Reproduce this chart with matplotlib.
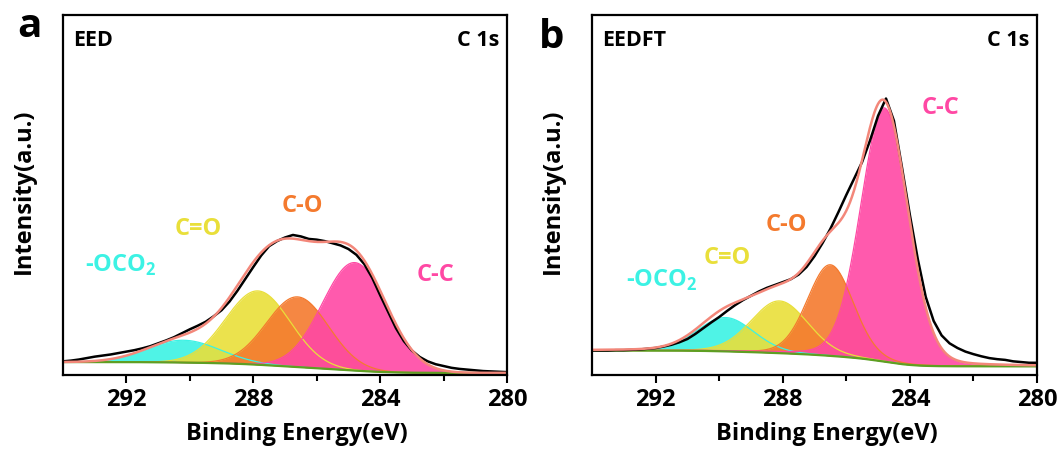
import numpy as np
import matplotlib.pyplot as plt

plt.rcParams['font.family'] = ['Open Sans', 'DejaVu Sans']
plt.rcParams['font.weight'] = 'bold'
plt.rcParams['mathtext.fontset'] = 'custom'
plt.rcParams['mathtext.rm'] = 'Open Sans:bold'
plt.rcParams['mathtext.bf'] = 'Open Sans:bold'

# measured C 1s spectra, binding energy from 294 to 280 eV in 0.25 eV steps
be_raw = np.arange(294.0, 279.99, -0.25)

eed_raw = [0.038, 0.040, 0.043, 0.047, 0.051, 0.054, 0.057, 0.061, 0.065, 0.069,
           0.074, 0.080, 0.088, 0.096, 0.105, 0.116, 0.127, 0.137, 0.148, 0.163,
           0.180, 0.204, 0.234, 0.267, 0.300, 0.332, 0.358, 0.372, 0.382, 0.389,
           0.385, 0.378, 0.376, 0.372, 0.366, 0.360, 0.350, 0.334, 0.308, 0.270,
           0.222, 0.176, 0.130, 0.094, 0.068, 0.050, 0.038, 0.030, 0.025, 0.020,
           0.017, 0.015, 0.013, 0.011, 0.010, 0.009, 0.008]

eedft_raw = [0.068, 0.068, 0.068, 0.069, 0.069, 0.070, 0.071, 0.073, 0.075, 0.079,
             0.084, 0.091, 0.100, 0.114, 0.130, 0.146, 0.161, 0.178, 0.194, 0.208,
             0.220, 0.232, 0.242, 0.250, 0.258, 0.266, 0.279, 0.300, 0.330, 0.366,
             0.406, 0.452, 0.500, 0.546, 0.592, 0.652, 0.720, 0.768, 0.706, 0.578,
             0.445, 0.322, 0.217, 0.150, 0.110, 0.088, 0.075, 0.065, 0.058, 0.052,
             0.047, 0.044, 0.042, 0.038, 0.036, 0.034, 0.034]

peak_labels = ['-OCO$_2$', 'C=O', 'C-O', 'C-C']
peak_colors = ['#3CF2E4', '#E9DF3A', '#F47A2E', '#FF48A4']

# fitted components: centre (eV), height above background, FWHM (eV)
eed_center = [290.2, 287.85, 286.6, 284.8]
eed_height = [0.062, 0.205, 0.195, 0.300]
eed_fwhm = [2.7, 2.4, 2.3, 2.4]
eed_eta = 0.0                # Lorentzian fraction of the line shape
eed_bg = [0.036, 0.006]      # background level at 294 eV and 280 eV

eedft_center = [289.8, 288.1, 286.5, 284.8]
eedft_height = [0.094, 0.145, 0.253, 0.705]
eedft_fwhm = [2.1, 2.1, 1.7, 1.75]
eedft_eta = 0.1
eedft_bg = [0.068, 0.024]

# label anchor positions in data units (eV, intensity)
eed_label_pos = [(292.18, 0.286), (289.75, 0.406), (286.45, 0.469), (282.24, 0.278)]
eedft_label_pos = [(291.80, 0.244), (289.74, 0.325), (287.89, 0.417), (283.03, 0.742)]

be = np.linspace(294, 280, 701)


def gl_peak(x, c, h, w, eta):
    # pseudo-Voigt: Gaussian with a Lorentzian share eta
    g = np.exp(-4 * np.log(2) * (x - c) ** 2 / w ** 2)
    l = 1 / (1 + 4 * (x - c) ** 2 / w ** 2)
    return h * ((1 - eta) * g + eta * l)


def shirley(comps, left, right):
    total = np.sum(comps, axis=0)
    # area accumulated from the low binding-energy end
    cum = np.cumsum(total[::-1])[::-1]
    return right + (left - right) * cum / cum[0]


def draw_panel(ax, raw, centers, heights, fwhms, eta, bg_ends, label_pos, name):
    comps = [gl_peak(be, c, h, w, eta) for c, h, w in zip(centers, heights, fwhms)]
    bg = shirley(comps, bg_ends[0], bg_ends[1])

    for comp, col in zip(comps, peak_colors):
        ax.fill_between(be, bg, bg + comp, color=col, alpha=0.9, lw=0)
        ax.plot(be, bg + comp, color=col, lw=0.9)

    ax.plot(be, bg, color='#5E9F22', lw=1.6)
    ax.plot(be_raw, raw, color='black', lw=1.8)
    ax.plot(be, bg + np.sum(comps, axis=0), color='#F3877A', lw=1.8)

    for lab, col, (x, y) in zip(peak_labels, peak_colors, label_pos):
        va = 'baseline' if lab.startswith('-') else 'center'
        ax.text(x, y, lab, color=col, fontsize=17, fontweight='bold',
                ha='center', va=va)

    ax.set_xlim(294, 280)
    ax.set_ylim(0, 1)
    ax.set_xticks([292, 288, 284, 280])
    ax.set_xticks([290, 286, 282], minor=True)
    ax.set_yticks([])
    ax.tick_params(axis='x', which='major', direction='out', length=6, width=1.5,
                   labelsize=17, pad=3)
    ax.tick_params(axis='x', which='minor', direction='out', length=4, width=1.5)
    for lbl in ax.get_xticklabels():
        lbl.set_fontweight('bold')
    for sp in ax.spines.values():
        sp.set_linewidth(1.6)

    ax.text(0.022, 0.915, name, transform=ax.transAxes, fontsize=15.5,
            fontweight='bold', ha='left', va='baseline')
    ax.text(0.982, 0.915, 'C 1s', transform=ax.transAxes, fontsize=15.5,
            fontweight='bold', ha='right', va='baseline')
    ax.text(0.527, -0.181, 'Binding Energy(eV)', transform=ax.transAxes,
            fontsize=17, fontweight='bold', ha='center', va='baseline')
    ax.text(-0.088, 0.511, 'Intensity(a.u.)', transform=ax.transAxes,
            fontsize=17, fontweight='bold', ha='center', va='center', rotation=90)


fig = plt.figure(figsize=(10.64, 4.57), dpi=100)
ax_a = fig.add_axes([0.0592, 0.1794, 0.4173, 0.7878])
ax_b = fig.add_axes([0.5564, 0.1794, 0.4182, 0.7878])

draw_panel(ax_a, eed_raw, eed_center, eed_height, eed_fwhm, eed_eta, eed_bg,
           eed_label_pos, 'EED')
draw_panel(ax_b, eedft_raw, eedft_center, eedft_height, eedft_fwhm, eedft_eta,
           eedft_bg, eedft_label_pos, 'EEDFT')

fig.text(0.016, 0.919, 'a', fontsize=29, fontweight='bold', ha='left', va='baseline')
fig.text(0.506, 0.896, 'b', fontsize=29, fontweight='bold', ha='left', va='baseline')

fig.savefig('out.png', dpi=100)
